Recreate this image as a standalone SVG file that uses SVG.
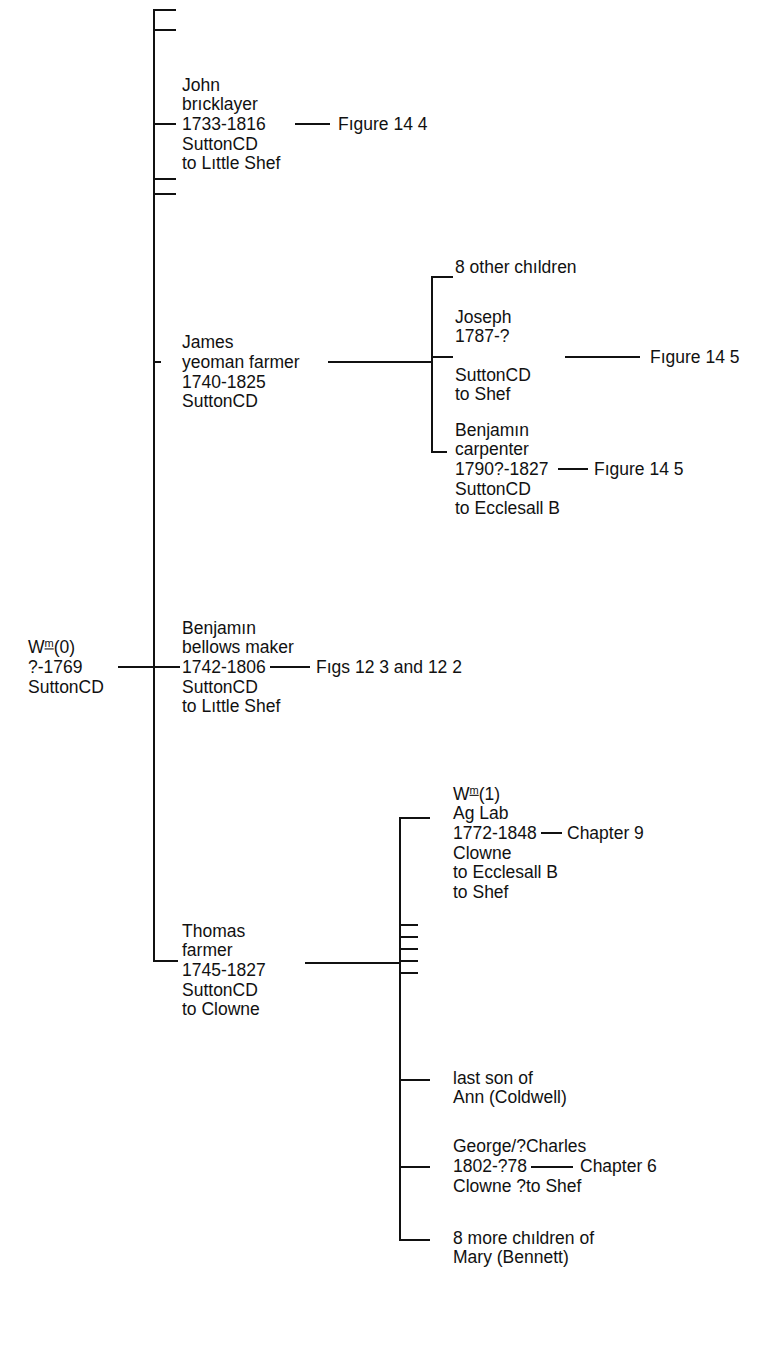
<svg xmlns="http://www.w3.org/2000/svg" width="770" height="1371" viewBox="0 0 770 1371">
<style>
text{font-family:"Liberation Sans",Arial,sans-serif;font-size:17.5px;fill:#111}
.c line,.c path{stroke:#111;stroke-width:2;fill:none}
.sup{font-size:11px;text-decoration:underline}
</style>
<rect width="770" height="1371" fill="#fff"/>
<g class="c" id="connectors">
<path d="M176 10H154V961H178"/>
<line x1="154" y1="30" x2="176" y2="30"/>
<line x1="154" y1="124" x2="176" y2="124"/>
<line x1="295" y1="124" x2="330" y2="124"/>
<line x1="154" y1="179" x2="176" y2="179"/>
<line x1="154" y1="194" x2="176" y2="194"/>
<line x1="154" y1="362" x2="161" y2="362"/>
<line x1="328" y1="362" x2="432" y2="362"/>
<path d="M453 277H432V452H447"/>
<line x1="432" y1="357" x2="453" y2="357"/>
<line x1="565" y1="357" x2="640" y2="357"/>
<line x1="558" y1="469" x2="588" y2="469"/>
<line x1="118" y1="667" x2="180" y2="667"/>
<line x1="270" y1="667" x2="310" y2="667"/>
<line x1="305" y1="963" x2="400" y2="963"/>
<path d="M430 818H400V1240H430"/>
<line x1="541" y1="833" x2="562" y2="833"/>
<line x1="400" y1="925" x2="418" y2="925"/>
<line x1="400" y1="937" x2="418" y2="937"/>
<line x1="400" y1="949" x2="418" y2="949"/>
<line x1="400" y1="961" x2="418" y2="961"/>
<line x1="400" y1="973" x2="418" y2="973"/>
<line x1="400" y1="1080" x2="430" y2="1080"/>
<line x1="400" y1="1167" x2="430" y2="1167"/>
<line x1="531" y1="1167" x2="573" y2="1167"/>
</g>
<g id="wm0"><text x="28" y="653.4">W<tspan class="sup" dy="-6">m</tspan><tspan dy="6">(0)</tspan></text><text x="28" y="673">?-1769</text><text x="28" y="692.6">SuttonCD</text></g>
<g id="john"><text x="182" y="90.8">John</text><text x="182" y="110.4">brıcklayer</text><text x="182" y="130">1733-1816</text><text x="182" y="149.6">SuttonCD</text><text x="182" y="169.2">to Lıttle Shef</text></g>
<g id="fig144"><text x="338" y="130">Fıgure 14 4</text></g>
<g id="james"><text x="182" y="348.4">James</text><text x="182" y="368">yeoman farmer</text><text x="182" y="387.6">1740-1825</text><text x="182" y="407.2">SuttonCD</text></g>
<g id="other8"><text x="455" y="273">8 other chıldren</text></g>
<g id="joseph"><text x="455" y="322.7">Joseph</text><text x="455" y="342.3">1787-?</text><text x="455" y="380.7">SuttonCD</text><text x="455" y="400.3">to Shef</text></g>
<g id="fig145a"><text x="650" y="363">Fıgure 14 5</text></g>
<g id="benjaminc"><text x="455" y="435.8">Benjamın</text><text x="455" y="455.4">carpenter</text><text x="455" y="475">1790?-1827</text><text x="455" y="494.6">SuttonCD</text><text x="455" y="514.2">to Ecclesall B</text></g>
<g id="fig145b"><text x="594" y="475">Fıgure 14 5</text></g>
<g id="benjaminb"><text x="182" y="633.8">Benjamın</text><text x="182" y="653.4">bellows maker</text><text x="182" y="673">1742-1806</text><text x="182" y="692.6">SuttonCD</text><text x="182" y="712.2">to Lıttle Shef</text></g>
<g id="figs12"><text x="316" y="673">Fıgs 12 3 and 12 2</text></g>
<g id="thomas"><text x="182" y="936.8">Thomas</text><text x="182" y="956.4">farmer</text><text x="182" y="976">1745-1827</text><text x="182" y="995.6">SuttonCD</text><text x="182" y="1015.2">to Clowne</text></g>
<g id="wm1"><text x="453" y="799.8">W<tspan class="sup" dy="-6">m</tspan><tspan dy="6">(1)</tspan></text><text x="453" y="819.4">Ag  Lab</text><text x="453" y="839">1772-1848</text><text x="453" y="858.6">Clowne</text><text x="453" y="878.2">to Ecclesall B</text><text x="453" y="897.8">to Shef</text></g>
<g id="ch9"><text x="567" y="839">Chapter 9</text></g>
<g id="lastson"><text x="453" y="1083.5">last son of</text><text x="453" y="1103.1">Ann (Coldwell)</text></g>
<g id="george"><text x="453" y="1152.4">George/?Charles</text><text x="453" y="1172">1802-?78</text><text x="453" y="1191.6">Clowne ?to Shef</text></g>
<g id="ch6"><text x="580" y="1172">Chapter 6</text></g>
<g id="more8"><text x="453" y="1243.8">8 more chıldren of</text><text x="453" y="1263.4">Mary (Bennett)</text></g>
</svg>
